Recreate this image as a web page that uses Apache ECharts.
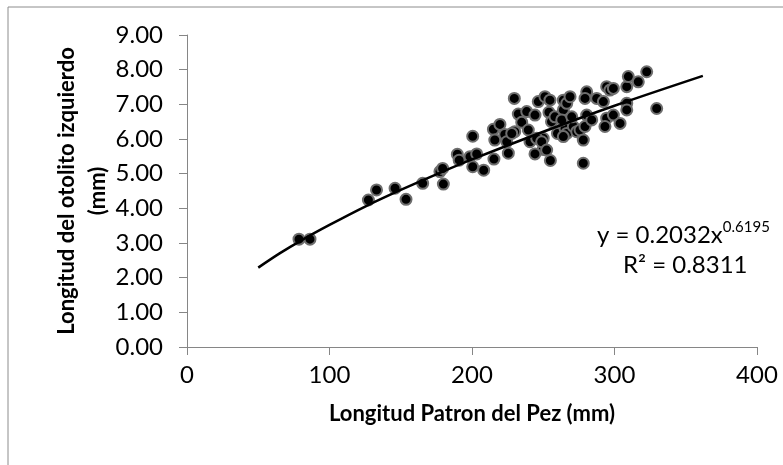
<!DOCTYPE html>
<html>
<head>
<meta charset="utf-8">
<script src="https://cdn.jsdelivr.net/npm/echarts@6/dist/echarts.min.js"></script>
<style>
  html, body { margin: 0; padding: 0; background: #fff; }
  #chart { width: 783px; height: 465px; }
</style>
</head>
<body>
<div id="chart"></div>
<script>
// longitud patron (mm) vs longitud del otolito izquierdo (mm)
const fishLength = [
  78.6, 86.3, 127.3, 133.0, 146.0, 153.7, 165.4, 177.5, 179.4, 179.9,
  189.7, 191.0, 198.6, 200.5, 200.5, 203.3, 208.2, 215.0, 216.0, 215.4,
  219.6, 225.5, 223.0, 230.0, 232.5, 234.9, 238.4, 244.2, 240.7, 250.0,
  250.0, 244.2, 255.0, 254.0, 260.0, 255.8, 229.7, 224.4, 227.9, 239.5,
  245.4, 246.5, 248.9, 251.2, 254.7, 252.4, 258.2, 264.1, 265.3, 266.5,
  264.1, 266.5, 268.8, 263.0, 264.1, 271.1, 273.5, 270.0, 275.8, 279.3,
  280.5, 279.3, 280.5, 278.1, 284.0, 287.5, 292.2, 294.5, 296.8, 299.2,
  294.5, 293.3, 299.2, 303.9, 308.6, 309.7, 308.6, 308.6, 316.7, 322.6,
  329.6, 278.1
]
const otolithLength = [
  3.11, 3.11, 4.24, 4.53, 4.58, 4.26, 4.72, 5.06, 5.15, 4.70,
  5.56, 5.39, 5.49, 6.08, 5.20, 5.57, 5.10, 6.28, 5.97, 5.42,
  6.42, 5.59, 6.13, 6.21, 6.72, 6.48, 6.79, 6.69, 5.92, 6.02,
  5.70, 5.57, 5.38, 6.77, 6.16, 6.50, 7.17, 5.92, 6.16, 6.26,
  6.02, 7.08, 5.92, 7.22, 7.12, 5.68, 6.64, 6.84, 6.30, 6.16,
  7.12, 7.03, 7.22, 6.55, 6.07, 6.36, 6.21, 6.64, 6.26, 6.36,
  7.36, 7.17, 6.69, 5.97, 6.55, 7.17, 7.08, 7.51, 7.41, 7.46,
  6.60, 6.36, 6.69, 6.45, 7.51, 7.80, 7.03, 6.84, 7.65, 7.94,
  6.88, 5.30
]

// linea de tendencia potencial
const trendX = [50, 65, 80, 100, 125, 150, 175, 200, 250, 300, 362]
const trendY = [2.29, 2.70, 3.07, 3.52, 4.05, 4.53, 4.98, 5.41, 6.21, 6.96, 7.82]

const xTicks = [0, 100, 200, 300, 400]
const yTicks = [0, 1, 2, 3, 4, 5, 6, 7, 8, 9]

const FONT = 'Lato'
const AXIS_GREY = '#868686'

const myChart = echarts.init(document.getElementById('chart'))
const option = {
  animation: false,
  grid: { left: 187, right: 26, top: 35, bottom: 118 },
  xAxis: {
    type: 'value',
    min: xTicks[0],
    max: xTicks[xTicks.length - 1],
    interval: 100,
    name: 'Longitud Patron del Pez (mm)',
    nameLocation: 'middle',
    nameGap: 56,
    nameMoveOverlap: false,
    nameTextStyle: { fontFamily: FONT, fontSize: 22, fontWeight: 'bold', color: '#000' },
    axisLine: { lineStyle: { color: AXIS_GREY, width: 1 } },
    axisTick: { show: true, length: 8, lineStyle: { color: AXIS_GREY } },
    axisLabel: { margin: 16, fontFamily: FONT, fontSize: 24, color: '#000' },
    splitLine: { show: false }
  },
  yAxis: {
    type: 'value',
    min: yTicks[0],
    max: yTicks[yTicks.length - 1],
    interval: 1,
    name: 'Longitud del otolito izquierdo\n(mm)',
    nameLocation: 'middle',
    nameRotate: 90,
    nameGap: 74,
    nameMoveOverlap: false,
    nameTextStyle: { fontFamily: FONT, fontSize: 22, fontWeight: 'bold', color: '#000', lineHeight: 31 },
    axisLine: { show: true, lineStyle: { color: AXIS_GREY, width: 1 } },
    axisTick: { show: true, length: 8, lineStyle: { color: AXIS_GREY } },
    axisLabel: {
      margin: 24,
      fontFamily: FONT,
      fontSize: 24,
      color: '#000',
      formatter: v => v.toFixed(2)
    },
    splitLine: { show: false }
  },
  graphic: [
    {
      type: 'rect',
      shape: { x: 8, y: 7, width: 800, height: 500 },
      style: { fill: 'none', stroke: '#8c8c8c', lineWidth: 1 },
      silent: true
    },
    {
      type: 'text',
      left: 597,
      top: 220,
      style: {
        text: '{a|y = 0.2032x}{b|0.6195}',
        rich: {
          a: { fontFamily: FONT, fontSize: 24, color: '#000', lineHeight: 30 },
          b: { fontFamily: FONT, fontSize: 15, color: '#000', verticalAlign: 'top', lineHeight: 30, padding: [0, 0, 14, 0] }
        }
      }
    },
    {
      type: 'text',
      left: 623,
      top: 253,
      style: { text: 'R² = 0.8311', fontFamily: FONT, fontSize: 24, fill: '#000' }
    }
  ],
  series: [
    {
      type: 'scatter',
      data: fishLength.map((x, i) => [x, otolithLength[i]]),
      symbol: 'circle',
      symbolSize: 11,
      itemStyle: { color: '#000', borderColor: '#6e6e6e', borderWidth: 2, opacity: 1 },
      z: 2
    },
    {
      type: 'line',
      data: trendX.map((x, i) => [x, trendY[i]]),
      smooth: 0.3,
      showSymbol: false,
      lineStyle: { color: '#000', width: 2.5 },
      z: 3
    }
  ]
}

option && myChart.setOption(option)
</script>
</body>
</html>
